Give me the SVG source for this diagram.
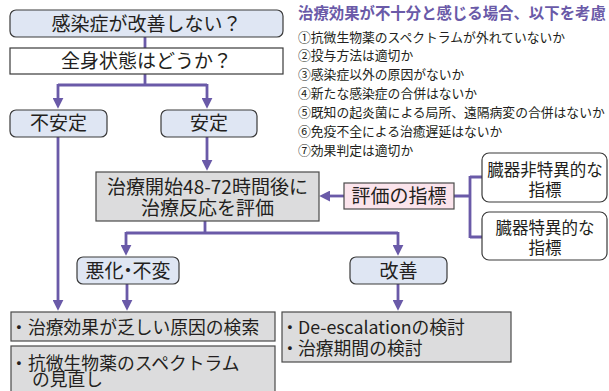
<svg xmlns="http://www.w3.org/2000/svg" width="609" height="391" viewBox="0 0 609 391">
<defs>
<marker id="ah" viewBox="0 0 10 10" refX="2" refY="5" markerWidth="11" markerHeight="11" markerUnits="userSpaceOnUse" orient="auto">
<path d="M0,0 L10,5 L0,10 z" fill="#6a5aa8"/>
</marker>
</defs>
<style>
text{font-family:"Noto Sans CJK JP","Noto Sans",sans-serif;fill:#231f20}
.c{stroke:#6a5aa8;stroke-width:2.8;fill:none}
.a{marker-end:url(#ah)}
.blue{fill:#dfe6f3;stroke:#3a3a3a;stroke-width:1.2}
.white{fill:#ffffff;stroke:#3a3a3a;stroke-width:1.2}
.gray{fill:#dcdcdd;stroke:#4a4a4a;stroke-width:1.2}
.pink{fill:#fbe4ec;stroke:#4a4a4a;stroke-width:1.2}
.m{text-anchor:middle}
.f19{font-size:19px}
.f18{font-size:17.8px}
.f16{font-size:16.5px}
.li{font-size:12.8px}
.title{font-size:15.4px;font-weight:bold;fill:#6a5aa8}
</style>
<rect width="609" height="391" fill="#ffffff"/>
<g id="connectors">
<path class="c" d="M145,37 V48"/>
<path class="c" d="M145,74 V85 M58,85 H207"/>
<path class="c a" d="M58,84 V100"/>
<path class="c a" d="M207,84 V100"/>
<path class="c a" d="M58,137 V302"/>
<path class="c a" d="M207,137 V162"/>
<path class="c" d="M205,221 V233 M126,233 H398"/>
<path class="c a" d="M126,232 V247"/>
<path class="c a" d="M398,232 V247"/>
<path class="c a" d="M127,284 V302"/>
<path class="c a" d="M398,284 V302"/>
<path class="c a" d="M344,196 H328"/>
<path class="c" d="M454,196 H470 M470,176 V238 M470,177 H482 M470,237 H482"/>
</g>
<g id="n-top"><rect class="blue" x="10" y="10" width="273" height="27" rx="6"/><text class="m f19" x="146.5" y="30.5">感染症が改善しない？</text></g>
<g id="n-general"><rect class="white" x="10" y="48" width="273" height="26"/><text class="m f19" x="146.5" y="68">全身状態はどうか？</text></g>
<g id="n-unstable"><rect class="blue" x="10" y="110" width="97" height="27" rx="6"/><text class="m f19" x="58.5" y="130">不安定</text></g>
<g id="n-stable"><rect class="blue" x="161" y="110" width="96" height="27" rx="6"/><text class="m f19" x="209" y="130">安定</text></g>
<g id="n-eval"><rect class="gray" x="96" y="172" width="223" height="49"/><text class="m f19" x="207.5" y="193.5">治療開始48-72時間後に</text><text class="m f19" x="207.5" y="215">治療反応を評価</text></g>
<g id="n-index"><rect class="pink" x="344" y="183" width="110" height="26"/><text class="m f19" x="399" y="203">評価の指標</text></g>
<g id="n-nonspecific"><rect class="white" x="482" y="153" width="125" height="49" rx="7"/><text class="m f16" x="545" y="176">臓器非特異的な</text><text class="m f16" x="545" y="196">指標</text></g>
<g id="n-specific"><rect class="white" x="482" y="212" width="125" height="48" rx="7"/><text class="m f16" x="545" y="234">臓器特異的な</text><text class="m f16" x="545" y="254">指標</text></g>
<g id="n-worse"><rect class="blue" x="77" y="257" width="102" height="27" rx="6"/><text class="m f19" x="128" y="278">悪化<tspan dx="-5">・</tspan><tspan dx="-5">不変</tspan></text></g>
<g id="n-improve"><rect class="blue" x="350" y="257" width="97" height="27" rx="6"/><text class="m f19" x="398.5" y="278">改善</text></g>
<g id="n-cause"><rect class="gray" x="11" y="312" width="264" height="29"/><text class="f18" x="10" y="334">・</text><text class="f18" x="28" y="334">治療効果が乏しい原因の検索</text></g>
<g id="n-spectrum"><rect class="gray" x="11" y="346" width="264" height="50"/><text class="f18" x="10" y="370">・</text><text class="f18" x="28" y="370">抗微生物薬のスペクトラム</text><text class="f18" x="32" y="386">の見直し</text></g>
<g id="n-deesc"><rect class="gray" x="282" y="312" width="229" height="50"/><text class="f18" x="281" y="334">・</text><text class="f18" x="298" y="334">De-escalationの検討</text><text class="f18" x="281" y="355">・</text><text class="f18" x="298" y="355">治療期間の検討</text></g>
<g id="notes">
<text class="title" x="298" y="19">治療効果が不十分と感じる場合、以下を考慮</text>
<text class="li" x="298" y="41.5">①抗微生物薬のスペクトラムが外れていないか</text>
<text class="li" x="298" y="60.4">②投与方法は適切か</text>
<text class="li" x="298" y="79.3">③感染症以外の原因がないか</text>
<text class="li" x="298" y="98.2">④新たな感染症の合併はないか</text>
<text class="li" x="298" y="117.1">⑤既知の起炎菌による局所、遠隔病変の合併はないか</text>
<text class="li" x="298" y="136">⑥免疫不全による治癒遅延はないか</text>
<text class="li" x="298" y="154.9">⑦効果判定は適切か</text>
</g>
</svg>
